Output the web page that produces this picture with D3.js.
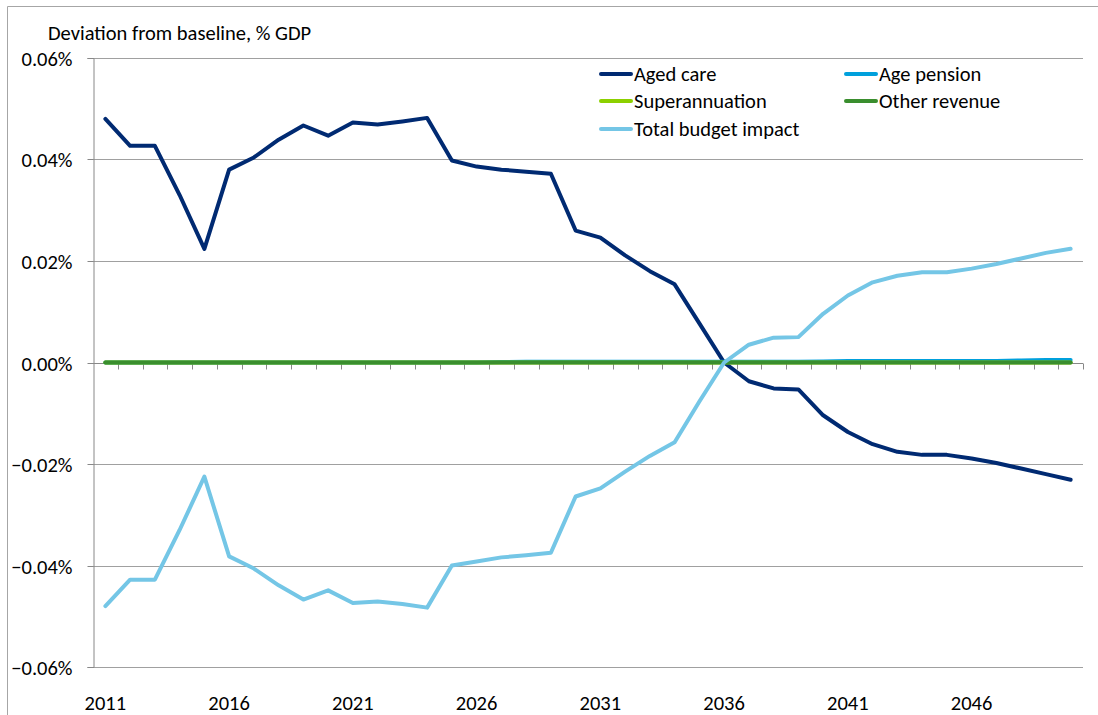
<!DOCTYPE html>
<html>
<head>
<meta charset="utf-8">
<script src="https://cdn.jsdelivr.net/npm/d3@7"></script>
<style>
  body { margin: 0; background: #fff; }
  svg text { font-family: Carlito, Calibri, Lato, sans-serif; fill: #000; }
</style>
</head>
<body>
<svg id="chart" width="1098" height="715"></svg>
<script>
/* ── Data (% of GDP, deviation from baseline) ─────────────────────────────── */
const years = d3.range(2011, 2051);
const tickYears = [2011, 2016, 2021, 2026, 2031, 2036, 2041, 2046];
const yTicks = [-0.06, -0.04, -0.02, 0, 0.02, 0.04, 0.06];

const agedCare = [
  0.0480, 0.0427, 0.0427, 0.0330, 0.0224, 0.0380, 0.0404, 0.0439, 0.0467, 0.0447,
  0.0473, 0.0469, 0.0475, 0.0482, 0.0398, 0.0386, 0.0380, 0.0376, 0.0372, 0.0260,
  0.0246, 0.0211, 0.0180, 0.0154, 0.0077, 0.0000, -0.0037, -0.0051, -0.0053, -0.0104,
  -0.0137, -0.0161, -0.0176, -0.0182, -0.0182, -0.0189, -0.0198, -0.0209, -0.0220, -0.0231
];
const agePension = [
  0, 0, 0, 0, 0, 0, 0, 0, 0, 0,
  0, 0, 0, 0, 0, 0, 0.0001, 0.00015, 0.00015, 0.00015,
  0.00015, 0.00015, 0.00015, 0.00015, 0.00015, 0.00015, 0.00015, 0.00015, 0.00015, 0.0002,
  0.0003, 0.0003, 0.0003, 0.0003, 0.0003, 0.0003, 0.0003, 0.0004, 0.0005, 0.0005
];
const superannuation = years.map(() => 0);
const otherRevenue = years.map(() => 0);
const totalBudget = [
  -0.0480, -0.0428, -0.0428, -0.0330, -0.0225, -0.0382, -0.0406, -0.0439, -0.0467, -0.0449,
  -0.0474, -0.0471, -0.0476, -0.0483, -0.0400, -0.0392, -0.0384, -0.0380, -0.0375, -0.0264,
  -0.0248, -0.0215, -0.0184, -0.0157, -0.0077, 0.0000, 0.0035, 0.0049, 0.0050, 0.0096,
  0.0132, 0.0158, 0.0171, 0.0178, 0.0178, 0.0185, 0.0194, 0.0205, 0.0216, 0.0224
];

const series = [
  { name: 'Aged care',           values: agedCare,       color: '#002A72' },
  { name: 'Age pension',         values: agePension,     color: '#00A0DC' },
  { name: 'Superannuation',      values: superannuation, color: '#8CD000' },
  { name: 'Other revenue',       values: otherRevenue,   color: '#3A8E2E' },
  { name: 'Total budget impact', values: totalBudget,    color: '#74C6E6' }
];

/* ── Layout ───────────────────────────────────────────────────────────────── */
const M = { top: 58, right: 15, bottom: 48, left: 93 };
const W = 1098 - M.left - M.right;
const H = 715 - M.top - M.bottom;

const svg = d3.select('#chart');

// outer chart frame (only top/left edges visible in the crop)
svg.append('path')
  .attr('d', 'M7.5,715 V6.5 H1098')
  .attr('fill', 'none').attr('stroke', '#a6a6a6').attr('stroke-width', 1);

const g = svg.append('g').attr('transform', `translate(${M.left},${M.top})`);

const x = d3.scaleBand().domain(years).range([0, 990]);
const y = d3.scaleLinear().domain([-0.06, 0.06]).range([609, 0]);
const cx = d => x(d) + x.bandwidth() / 2;

/* gridlines */
g.append('g')
  .selectAll('line')
  .data(yTicks.filter(t => t !== 0))
  .join('line')
  .attr('x1', 0).attr('x2', 990)
  .attr('y1', d => Math.round(y(d)) + 0.5).attr('y2', d => Math.round(y(d)) + 0.5)
  .attr('stroke', '#a0a0a0').attr('stroke-width', 1.2);

/* y axis */
const yAxis = g.append('g')
  .attr('transform', 'translate(0.5,0)')
  .call(d3.axisLeft(y).tickValues(yTicks).tickSize(6).tickPadding(15)
    .tickFormat(d => d3.format('.2f')(d) + '%'));
yAxis.select('.domain').attr('stroke', '#888');
yAxis.selectAll('.tick line').attr('stroke', '#888');
yAxis.selectAll('.tick text').attr('font-size', 20.5).attr('dy', '0.35em');
yAxis.selectAll('.tick').attr('transform', d => `translate(0,${Math.round(y(d)) + 0.5})`);

/* x axis on the zero line, labels low */
const zeroY = Math.round(y(0)) + 0.5;
const xAxisG = g.append('g').attr('transform', `translate(0,${zeroY})`);
xAxisG.append('line').attr('x1', 0).attr('x2', 990)
  .attr('stroke', '#888').attr('stroke-width', 1.2);
xAxisG.selectAll('.xt')
  .data(d3.range(1, years.length + 1))
  .join('line')
  .attr('class', 'xt')
  .attr('x1', i => Math.round(i * x.step()) + 0.5)
  .attr('x2', i => Math.round(i * x.step()) + 0.5)
  .attr('y1', 0).attr('y2', 6)
  .attr('stroke', '#888');

g.append('g').selectAll('text')
  .data(tickYears)
  .join('text')
  .attr('x', d => cx(d))
  .attr('y', H + 43)
  .attr('text-anchor', 'middle')
  .attr('font-size', 20.5)
  .text(d => d);

/* title */
svg.append('text')
  .attr('x', 48).attr('y', 40)
  .attr('font-size', 20.5)
  .text('Deviation from baseline, % GDP');

/* lines */
const line = d3.line()
  .x((d, i) => cx(years[i]))
  .y(d => y(d));

g.append('g').selectAll('path')
  .data(series)
  .join('path')
  .attr('d', s => line(s.values))
  .attr('fill', 'none')
  .attr('stroke', s => s.color)
  .attr('stroke-width', 4)
  .attr('stroke-linejoin', 'round')
  .attr('stroke-linecap', 'round');

/* legend */
const legendPos = [
  { x: 600, y: 74 }, { x: 845, y: 74 },
  { x: 600, y: 101 }, { x: 845, y: 101 },
  { x: 600, y: 129 }
];
const lg = svg.append('g').selectAll('g')
  .data(series)
  .join('g')
  .attr('transform', (s, i) => `translate(${legendPos[i].x},${legendPos[i].y})`);
lg.append('line')
  .attr('x1', 1).attr('x2', 31).attr('y1', 0).attr('y2', 0)
  .attr('stroke', s => s.color).attr('stroke-width', 4)
  .attr('stroke-linecap', 'round');
lg.append('text')
  .attr('x', 34).attr('y', 0).attr('dy', '0.35em')
  .attr('font-size', 20.5)
  .text(s => s.name);
</script>
</body>
</html>
